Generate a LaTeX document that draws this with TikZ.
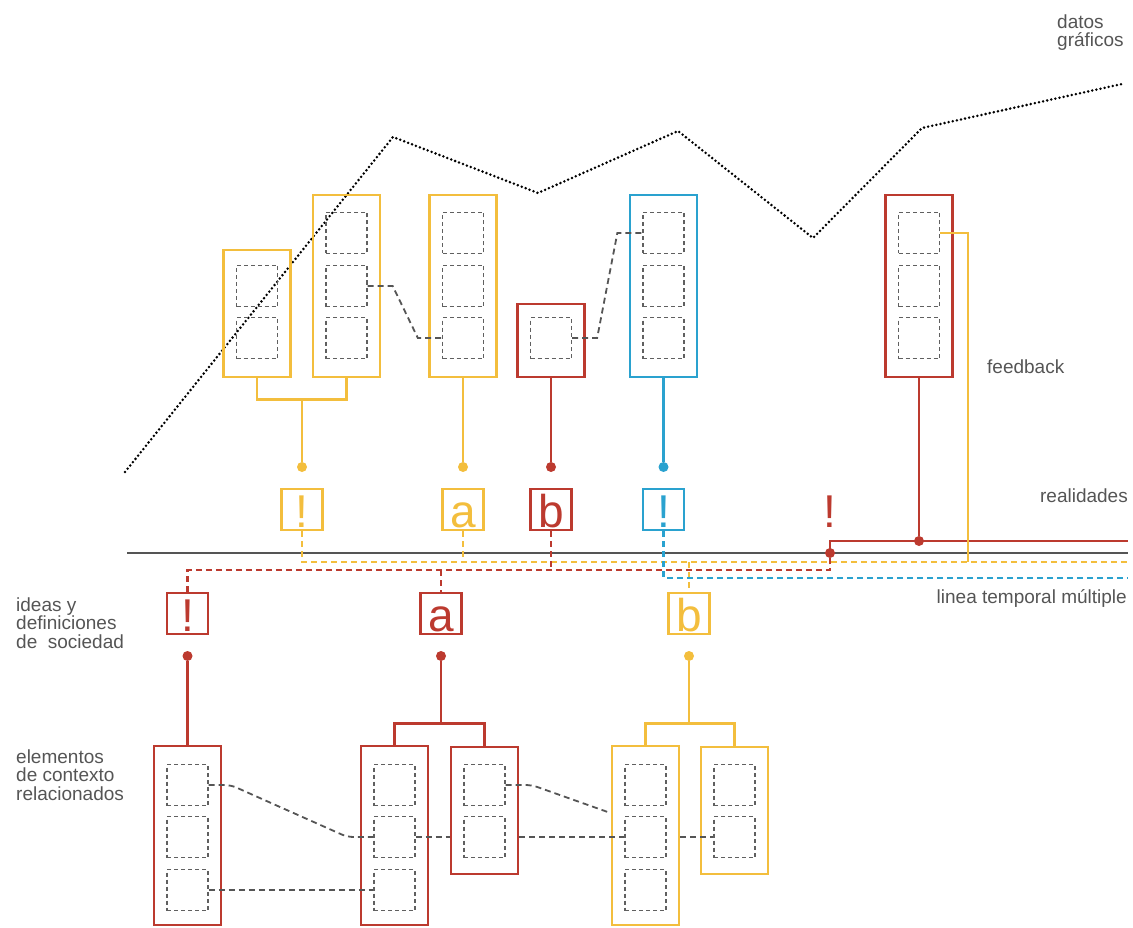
\documentclass[tikz,border=0pt]{standalone}
\usepackage{fontspec}
\setmainfont{Liberation Sans}
\usetikzlibrary{calc}

\definecolor{ylw}{HTML}{F3BE3D}
\definecolor{rd}{HTML}{BC3A2F}
\definecolor{bl}{HTML}{2AA2CF}
\definecolor{ink}{HTML}{555555}

\tikzset{
  colbox/.style={draw=#1,line width=2.9,inner sep=0,minimum width=67},
  cell/.style={draw=gray!75!black,dash pattern=on 4pt off 3pt,line width=1.3,inner sep=0,minimum size=41},
  tag/.style={draw=#1,text=#1,line width=2.5,inner sep=0,minimum size=41,text height=35pt,text depth=0pt,font=\fontsize{46}{46}\selectfont},
  dot/.style={circle,fill=#1,inner sep=0,minimum size=10},
  stem/.style={draw=#1,line width=2.5},
  tline/.style={draw=#1,line width=2.5,dash pattern=on 6pt off 4pt},
  link/.style={draw=ink,line width=1.8,dash pattern=on 6pt off 4pt},
  lbl/.style={text=ink,inner sep=0,align=left,font=\fontsize{19}{18.5}\selectfont},
}

\begin{document}
\begin{tikzpicture}[x=1pt,y=-1pt]
\useasboundingbox (0,0) rectangle (1133,928);

% datos graficos
\draw[line width=2.8,line cap=round,dash pattern=on 0pt off 4.2pt] (125,472) -- (393,137) -- (538,193) -- (678,131) -- (813,238) -- (922,128) -- (1122,84);

% realidades (arriba)
\node[colbox=ylw,minimum height=127] (y1) at (257,313.5) {};
\node[colbox=ylw,minimum height=182] (y2) at (346.5,286) {};
\node[colbox=ylw,minimum height=182] (y3) at (463,286) {};
\node[colbox=rd,minimum height=73] (r1) at (551,340.5) {};
\node[colbox=bl,minimum height=182] (b1) at (663.5,286) {};
\node[colbox=rd,minimum height=182] (r2) at (919,286) {};
\foreach \b in {y2,y3,b1,r2}
  \foreach \r/\y in {1/233,2/286,3/338}
    \node[cell] (\b c\r) at (\b |- 0,\y) {};
\node[cell] (y1c2) at (y1 |- 0,286) {};
\node[cell] (y1c3) at (y1 |- 0,338) {};
\node[cell] (r1c3) at (r1 |- 0,338) {};

\draw[link] (y2c2.east) -- ++(25,0) -- ($(y3c3.west)+(-24,0)$) -- (y3c3.west);
\draw[link] (r1c3.east) -- ++(25,0) -- ($(b1c1.west)+(-25,0)$) -- (b1c1.west);

\node[dot=ylw] (dy1) at (302,467) {};
\node[dot=ylw] (dy3) at (y3 |- dy1) {};
\node[dot=rd] (dr1) at (r1 |- dy1) {};
\node[dot=bl] (db1) at (b1 |- dy1) {};
\draw[stem=ylw] (y1.south) -- ++(0,21) coordinate (ybr) -| (y2.south);
\draw[stem=ylw] (ybr -| dy1) -- (dy1);
\draw[stem=ylw] (y3.south) -- (dy3);
\draw[stem=rd] (r1.south) -- (dr1);
\draw[stem=bl] (b1.south) -- (db1);

\node[tag=ylw] (t1) at (302,509.5) {!};
\node[tag=ylw] (t2) at (dy3 |- t1) {a};
\node[tag=rd] (t3) at (dr1 |- t1) {b};
\node[tag=bl] (t4) at (db1 |- t1) {!};
\node[tag=rd,draw=none] (t5) at (830,509.5) {!};

% linea temporal
\coordinate (base0) at (127,553);
\coordinate (base1) at (1128,553);
\coordinate (yend) at (1128,562);
\coordinate (rend) at (830,570);
\coordinate (bend) at (1128,578);
\coordinate (rsend) at (1128,541);
\draw[ink,line width=2.3] (base0) -- (base1);

\node[tag=rd] (t6) at (187.5,613.5) {!};
\node[tag=rd] (t7) at (441,613.5) {a};
\node[tag=ylw] (t8) at (689,613.5) {b};

\draw[tline=ylw] (t1.south) |- (yend);
\draw[tline=ylw] (t2.south) -- (t2.south |- yend);
\draw[tline=ylw] (t8.north |- yend) -- (t8.north);
\draw[tline=rd] (t6.north) |- (rend) -- ++(0,-17) coordinate (rtop);
\draw[tline=rd] (t3.south) -- (t3.south |- rend);
\draw[tline=rd] (t7.north |- rend) -- (t7.north);
\draw[tline=bl] (t4.south) |- (bend);
\node[dot=rd] (rdot) at (rtop) {};
\draw[stem=rd,line width=2.6] (rdot.center) |- (rsend);

% feedback
\node[dot=rd] (dr2) at (r2 |- rsend) {};
\draw[stem=rd] (r2.south) -- (dr2);
\coordinate (fb) at (968,562);
\draw[stem=ylw] (r2c1.east) -| (fb);

% ideas y elementos (abajo)
\node[dot=rd] (dl1) at (t6 |- 0,656) {};
\node[dot=rd] (dl2) at (t7 |- 0,656) {};
\node[dot=ylw] (dl3) at (t8 |- 0,656) {};

\node[colbox=rd,minimum height=179] (l1) at (187.5,835.5) {};
\node[colbox=rd,minimum height=179] (l2) at (394.5,835.5) {};
\node[colbox=rd,minimum height=127] (l3) at (484.5,810.5) {};
\node[colbox=ylw,minimum height=179] (y4) at (645.5,835.5) {};
\node[colbox=ylw,minimum height=127] (y5) at (734.5,810.5) {};
\foreach \b in {l1,l2,y4}
  \foreach \r/\y in {1/785,2/837,3/890}
    \node[cell] (\b c\r) at (\b |- 0,\y) {};
\foreach \b in {l3,y5}
  \foreach \r/\y in {1/785,2/837}
    \node[cell] (\b c\r) at (\b |- 0,\y) {};

\draw[stem=rd] (dl1) -- (l1.north);
\draw[stem=rd] (l2.north) -- ++(0,-21) coordinate (rbr) -| (l3.north);
\draw[stem=rd] (dl2) -- (dl2 |- rbr);
\draw[stem=ylw] (y4.north) -- ++(0,-21) coordinate (ybr2) -| (y5.north);
\draw[stem=ylw] (dl3) -- (dl3 |- ybr2);

\draw[link,rounded corners=6] (l1c1.east) -- ++(22,0) -- ($(l2c2.west)+(-26,0)$) -- (l2c2.west);
\draw[link] (l1c3.east) -- (l2c3.west);
\draw[link] (l2c2.east) -- (l2c2.east -| l3.west);
\draw[link] (l2c2.east -| l3.east) -- (y4c2.west);
\draw[link,rounded corners=6] (l3c1.east) -- ++(26,0) -- (y4.west |- 0,813);
\draw[link] (y4.east |- y4c2) -- (y5c2.west);

% textos
\node[lbl,anchor=north west] (datos) at (1057,14.4) {datos\\gráficos};
\node[lbl,anchor=base west] (feed) at (987,373) {feedback};
\node[lbl,anchor=base east] (real) at (1128,502) {realidades};
\node[lbl,anchor=base east] (linea) at (1127,603) {linea temporal múltiple};
\node[lbl,anchor=north west] (ideas) at (16,597.4) {ideas y\\definiciones\\de~~sociedad};
\node[lbl,anchor=north west] (elem) at (16,749.4) {elementos\\de contexto\\relacionados};
\end{tikzpicture}
\end{document}
